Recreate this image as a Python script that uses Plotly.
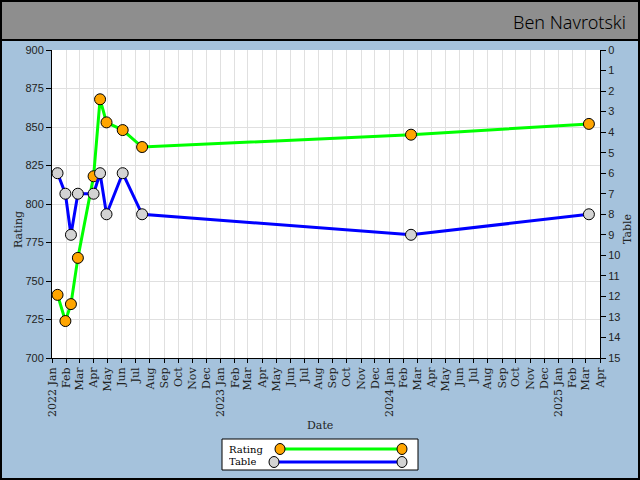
import plotly.graph_objects as go
import pandas as pd

# ---- data ----
dates = ["2022-01-13", "2022-01-30", "2022-02-11", "2022-02-26", "2022-04-01",
         "2022-04-15", "2022-04-29", "2022-06-03", "2022-07-15", "2024-02-17",
         "2025-03-08"]
rating = [741, 724, 735, 765, 818, 868, 853, 848, 837, 845, 852]
table = [6, 7, 9, 7, 7, 6, 8, 6, 8, 9, 8]

month_ticks = pd.date_range("2022-01-01", "2025-04-01", freq="MS")
month_labels = [(f"{d.year} {d.strftime('%b')}" if d.month == 1 else d.strftime('%b'))
                for d in month_ticks]

title_text = "Ben Navrotski"

# ---- layout geometry ----
W, H = 640, 480
ML, MR, MT, MB = 52, 40, 50, 122
PW, PH = W - ML - MR, H - MT - MB


def px(x):
    return (x - ML) / PW


def py(y):
    return (H - MB - y) / PH


BG = "#A5C2DC"
SERIF = "DejaVu Serif"
SANS = "Liberation Sans"

fig = go.Figure()
fig.add_trace(go.Scatter(
    x=dates, y=rating, name="Rating", mode="lines+markers",
    line=dict(color="#00FF00", width=3),
    marker=dict(size=11, color="#FFA500", line=dict(color="black", width=1)),
    yaxis="y"))
fig.add_trace(go.Scatter(
    x=dates, y=table, name="Table", mode="lines+markers",
    line=dict(color="#0000FF", width=3),
    marker=dict(size=11, color="#D3D3D3", line=dict(color="black", width=1)),
    yaxis="y2"))

shapes = []
annotations = []
# header bar
shapes.append(dict(type="rect", xref="paper", yref="paper",
                   x0=px(0), x1=px(W), y0=py(40), y1=py(0),
                   fillcolor="#8E8E8E", line=dict(color="black", width=2), layer="below"))
# outer border
shapes.append(dict(type="rect", xref="paper", yref="paper",
                   x0=px(1), x1=px(W - 1), y0=py(H - 1), y1=py(1),
                   line=dict(color="black", width=2)))
annotations.append(dict(text=title_text, xref="paper", yref="paper",
                        x=px(628), y=py(22), xanchor="right", yanchor="middle",
                        showarrow=False, font=dict(family="Noto Sans", size=18, color="black",
                                                   weight=300)))
# axis titles
annotations.append(dict(text="Rating", xref="paper", yref="paper", x=px(18), y=py(230),
                        xanchor="center", yanchor="middle",
                        textangle=-90, showarrow=False,
                        font=dict(family=SERIF, size=11, color="#222")))
annotations.append(dict(text="Table", xref="paper", yref="paper", x=px(627), y=py(229),
                        xanchor="center", yanchor="middle",
                        textangle=-90, showarrow=False,
                        font=dict(family=SERIF, size=11, color="#222")))
annotations.append(dict(text="Date", xref="paper", yref="paper", x=px(320), y=py(425),
                        xanchor="center", yanchor="middle",
                        showarrow=False, font=dict(family=SERIF, size=11, color="#222")))

# custom legend
shapes.append(dict(type="rect", xref="paper", yref="paper",
                   x0=px(222), x1=px(418), y0=py(470), y1=py(439),
                   fillcolor="white", line=dict(color="black", width=1)))
legend_rows = [("Rating", 449, 280, "#00FF00", "#FFA500"),
               ("Table", 462, 274, "#0000FF", "#D3D3D3")]
for name, ry, lx, lc, mc in legend_rows:
    shapes.append(dict(type="line", xref="paper", yref="paper",
                       x0=px(lx), x1=px(402), y0=py(ry), y1=py(ry),
                       line=dict(color=lc, width=3)))
    for cx in (lx, 402):
        shapes.append(dict(type="circle", xref="paper", yref="paper",
                           xsizemode="pixel", ysizemode="pixel",
                           xanchor=px(cx), yanchor=py(ry),
                           x0=-5, x1=5, y0=-5.5, y1=5.5,
                           fillcolor=mc, line=dict(color="black", width=1)))
    annotations.append(dict(text=name, xref="paper", yref="paper",
                            x=px(228), y=py(ry), xanchor="left", yanchor="middle",
                            height=11, valign="middle", borderpad=0,
                            showarrow=False, font=dict(family=SERIF, size=10, color="black")))

fig.update_layout(
    width=W, height=H,
    margin=dict(l=ML, r=MR, t=MT, b=MB),
    paper_bgcolor=BG, plot_bgcolor="white",
    showlegend=False,
    shapes=shapes, annotations=annotations,
    xaxis=dict(range=["2022-01-01", "2025-04-01"], tickvals=list(month_ticks),
               ticktext=month_labels, tickangle=-90, showgrid=True,
               gridcolor="#E0E0E0", gridwidth=1, showline=True, linecolor="black",
               linewidth=1, ticks="outside", ticklen=4, tickcolor="black",
               tickfont=dict(family=SERIF, size=11, color="#222"), zeroline=False),
    yaxis=dict(range=[700, 900], dtick=25, showgrid=True, gridcolor="#E0E0E0",
               showline=True, linecolor="black", linewidth=1, ticks="outside",
               ticklen=5, tickcolor="black", zeroline=False,
               tickfont=dict(family=SANS, size=11, color="#222")),
    yaxis2=dict(range=[15, 0], dtick=1, overlaying="y", side="right", showgrid=False,
                showline=True, linecolor="black", linewidth=1, ticks="outside",
                ticklen=5, tickcolor="black", zeroline=False,
                tickfont=dict(family=SANS, size=11, color="#222")),
)

fig.write_html("out.html", config={"displayModeBar": False},
               post_script="document.body.style.margin='0';document.body.style.overflow='hidden';")
